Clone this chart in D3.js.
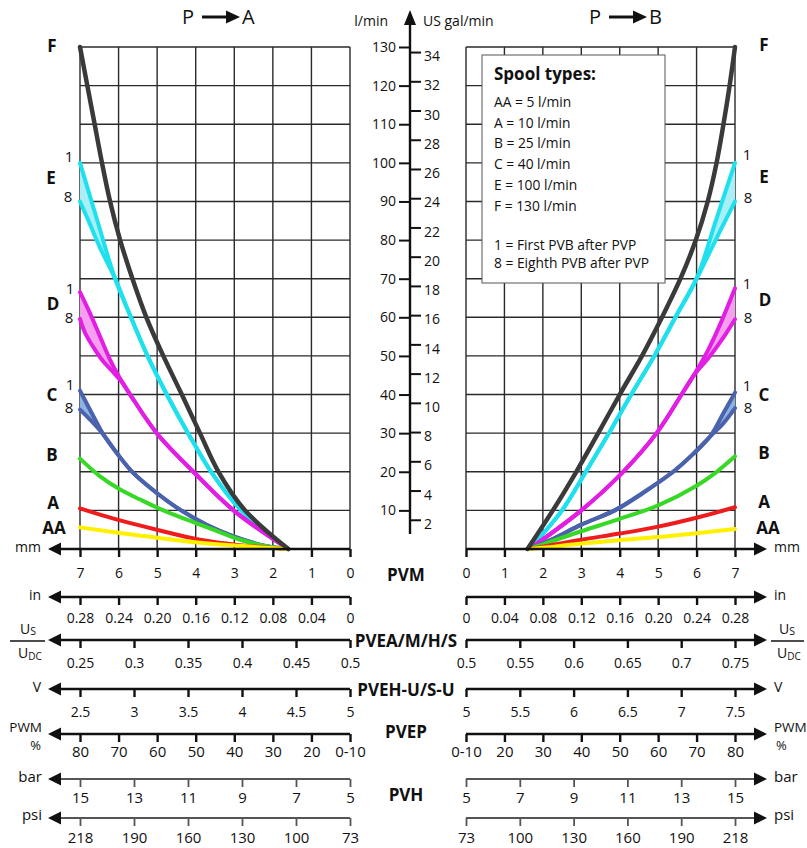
<!DOCTYPE html>
<html><head><meta charset="utf-8">
<script src="https://cdn.jsdelivr.net/npm/d3@7"></script>
<style>
body{margin:0;background:#fff}
svg{display:block}
text{font-family:"Open Sans",sans-serif;fill:#111}
</style>
</head><body>
<svg id="c" width="807" height="848"></svg>
<script>
// ---------------- DATA ----------------
// spool stroke (mm) vs flow (l/min); P -> A (left panel)
const leftF  = [[1.6,0],[2.72,10],[3.41,20],[3.89,30],[4.36,40],[4.84,50],[5.28,60],[5.64,70],[5.96,80],[6.22,90],[6.43,100],[6.62,110],[6.81,120],[7,130]];
const leftE_base = [[1.6,0],[2.82,10],[3.6,20],[4.2,30],[4.75,40],[5.25,50],[5.68,60],[6.09,70]];
const leftE_1 = [[6.09,70],[6.55,85],[7,100]];
const leftE_8 = [[6.09,70],[6.48,78],[6.78,85],[7,90]];
const leftD_base = [[1.6,0],[3.02,10],[4.06,20],[5.01,30],[5.7,40],[5.88,42.8]];
const leftD_1 = [[5.88,42.8],[6.22,49],[6.48,55],[6.74,61],[7,66.5]];
const leftD_8 = [[5.88,42.8],[6.14,45.8],[6.4,48.6],[6.65,52.2],[6.87,56],[7,59.6]];
const leftC_base = [[1.6,0],[2.16,0.7],[3.02,3.3],[3.72,6.3],[4.41,10.2],[5.01,14.5],[5.62,19.7],[6.05,24.9],[6.39,29.6]];
const leftC_1 = [[6.39,29.6],[6.7,35.3],[7,41]];
const leftC_8 = [[6.39,29.6],[6.74,33.5],[7,36.1]];
const leftB  = [[1.6,0],[2.16,0.7],[2.85,2.4],[3.54,5.0],[4.23,7.6],[4.93,10.4],[5.44,12.8],[5.96,15.4],[6.48,18.8],[7,23.4]];
const leftA  = [[1.6,0],[2.85,1.0],[3.89,2.4],[5.01,5.0],[5.96,7.4],[6.48,8.9],[7,10.5]];
const leftAA = [[1.6,0],[3.89,1.6],[5.62,3.7],[7,5.6]];

// P -> B (right panel)
const rightF  = [[1.6,0],[2.26,10],[2.87,20],[3.44,30],[4.0,40],[4.58,50],[5.1,60],[5.58,70],[5.98,80],[6.29,90],[6.52,100],[6.7,110],[6.86,120],[7,130]];
const rightE_base = [[1.65,0],[2.5,10],[3.12,20],[3.72,30],[4.3,40],[4.9,50],[5.45,60],[6.0,70]];
const rightE_1 = [[6.0,70],[6.5,85],[7,100]];
const rightE_8 = [[6.0,70],[6.3,76],[6.62,82.5],[7,90]];
const rightD_base = [[1.65,0],[3.0,10],[4.09,20],[4.96,30],[5.61,40],[5.91,44.7]];
const rightD_1 = [[5.91,44.7],[6.3,51.5],[6.65,59],[7,67.5]];
const rightD_8 = [[5.91,44.7],[6.35,50],[6.7,54.8],[7,59.5]];
const rightC_base = [[1.65,0],[2.3,2.8],[3.0,6.3],[3.87,10],[4.6,14.5],[5.39,20],[5.9,24.5],[6.35,29.1]];
const rightC_1 = [[6.35,29.1],[6.7,35.2],[7,40.5]];
const rightC_8 = [[6.35,29.1],[6.7,32.6],[7,36.5]];
const rightB  = [[1.65,0],[2.0,1.2],[3.0,4.6],[4.0,7.8],[5.0,11.3],[6.0,16.4],[6.5,19.8],[7,24]];
const rightA  = [[1.65,0],[2.0,0.6],[3.0,2.4],[4.0,4.0],[5.0,5.8],[6.0,8.1],[7,10.8]];
const rightAA = [[1.65,0],[2.0,0.3],[3.0,1.4],[4.0,2.3],[5.0,3.1],[6.0,4.1],[7,5.2]];

// axes tick labels
const mmTicks = [0,1,2,3,4,5,6,7];
const flowTicks = [10,20,30,40,50,60,70,80,90,100,110,120,130];
const galTicks = [2,4,6,8,10,12,14,16,18,20,22,24,26,28,30,32,34];
const inTicks = ["0","0.04","0.08","0.12","0.16","0.20","0.24","0.28"];
const usLeftTicks = [0.25,0.3,0.35,0.4,0.45,0.5];
const usRightTicks = [0.5,0.55,0.6,0.65,0.7,0.75];
const vLeftTicks = [2.5,3,3.5,4,4.5,5];
const vRightTicks = [5,5.5,6,6.5,7,7.5];
const pwmTicks = ["0-10","20","30","40","50","60","70","80"];
const barTicks = [5,7,9,11,13,15];
const psiTicks = ["73","100","130","160","190","218"];
const legendTitle = "Spool types:";
const legendItems = ["AA = 5 l/min","A = 10 l/min","B = 25 l/min","C = 40 l/min","E = 100 l/min","F = 130 l/min"];
const legendNotes = ["1 = First PVB after PVP","8 = Eighth PVB after PVP"];
const LPM_PER_GAL = 3.785;

// ---------------- DRAW ----------------
const svg = d3.select("#c");
const xL = d3.scaleLinear().domain([0,7]).range([350,80]);
const xR = d3.scaleLinear().domain([0,7]).range([466,735]);
const y = d3.scaleLinear().domain([0,130]).range([549,47]);
const yGal = d3.scaleLinear().domain([0,130/LPM_PER_GAL]).range([549,47]);

// grid
[xL, xR].forEach(xs => {
  const g = svg.append("g").attr("stroke","#2a2a2a").attr("stroke-width",1.4);
  g.selectAll("line.v").data(mmTicks).join("line")
    .attr("x1",d=>xs(d)).attr("x2",d=>xs(d)).attr("y1",y(130)).attr("y2",y(0));
  g.selectAll("line.h").data(flowTicks).join("line")
    .attr("x1",xs(0)).attr("x2",xs(7)).attr("y1",d=>y(d)).attr("y2",d=>y(d));
});

// legend box
const lg = svg.append("g");
lg.append("rect").attr("x",482).attr("y",55).attr("width",183).attr("height",228)
  .attr("fill","#fff").attr("stroke","#555").attr("stroke-width",1);
lg.append("text").attr("x",494).attr("y",80).attr("font-weight","bold").attr("font-size",17).text(legendTitle);
lg.selectAll("text.it").data(legendItems).join("text").attr("class","it")
  .attr("x",494).attr("y",(d,i)=>107+i*20.7).attr("font-size",13.8).text(d=>d);
lg.selectAll("text.nt").data(legendNotes).join("text").attr("class","nt")
  .attr("x",494).attr("y",(d,i)=>250+i*18).attr("font-size",13.8).text(d=>d);

// curves
const line = d3.line().curve(d3.curveCatmullRom.alpha(0.5));
function drawSet(xs, spec) {
  const P = arr => arr.map(d => [xs(d[0]), y(d[1])]);
  spec.forEach(s => {
    if (s.t1) {
      const full1 = s.base.concat(s.t1.slice(1));
      const full8 = s.base.concat(s.t8.slice(1));
      const band = line(P(s.t1)) + line(P(s.t8.slice().reverse())).replace(/^M/,"L") + "Z";
      svg.append("path").attr("d",band).attr("fill",s.band).attr("stroke","none");
      [full8, full1].forEach(f => svg.append("path").attr("d",line(P(f)))
        .attr("fill","none").attr("stroke",s.color).attr("stroke-width",s.w)
        .attr("stroke-linecap","round").attr("stroke-linejoin","round"));
    } else {
      svg.append("path").attr("d",line(P(s.base))).attr("fill","none")
        .attr("stroke",s.color).attr("stroke-width",s.w)
        .attr("stroke-linecap","round").attr("stroke-linejoin","round");
    }
  });
}
const cE="#1fe0ee", cD="#e21ee4", cC="#4b62ad", cB="#38d826", cA="#ee1c1c", cAA="#fff000", cF="#3a3a3a";
const W = 4;
drawSet(xL, [
  {base:leftE_base,t1:leftE_1,t8:leftE_8,color:cE,band:"#aaeff6",w:W},
  {base:leftD_base,t1:leftD_1,t8:leftD_8,color:cD,band:"#f4a0ef",w:W},
  {base:leftC_base,t1:leftC_1,t8:leftC_8,color:cC,band:"#8db3e2",w:W},
  {base:leftB,color:cB,w:W},
  {base:leftA,color:cA,w:W},
  {base:leftAA,color:cAA,w:W},
  {base:leftF,color:cF,w:4.5}
]);
drawSet(xR, [
  {base:rightE_base,t1:rightE_1,t8:rightE_8,color:cE,band:"#aaeff6",w:W},
  {base:rightD_base,t1:rightD_1,t8:rightD_8,color:cD,band:"#f4a0ef",w:W},
  {base:rightC_base,t1:rightC_1,t8:rightC_8,color:cC,band:"#8db3e2",w:W},
  {base:rightB,color:cB,w:W},
  {base:rightA,color:cA,w:W},
  {base:rightAA,color:cAA,w:W},
  {base:rightF,color:cF,w:4.5}
]);

// central flow axis
svg.append("line").attr("x1",410).attr("x2",410).attr("y1",534).attr("y2",22)
  .attr("stroke","#111").attr("stroke-width",2.4);
svg.append("path").attr("d","M410,10 L404,25 L416,25 Z").attr("fill","#111");
const aL = svg.append("g").attr("transform","translate(410,0)")
  .call(d3.axisLeft(y).tickValues(flowTicks).tickSize(11).tickPadding(3));
const aR = svg.append("g").attr("transform","translate(410,0)")
  .call(d3.axisRight(yGal).tickValues(galTicks).tickSize(11).tickPadding(3));
[aL,aR].forEach(a=>{
  a.select(".domain").remove();
  a.selectAll(".tick line").attr("stroke","#111").attr("stroke-width",2);
  a.selectAll(".tick text").attr("font-family","Open Sans").attr("font-size",14).attr("fill","#111");
});
aR.selectAll(".tick text").attr("dy","0.62em");
svg.append("text").attr("x",388).attr("y",26).attr("text-anchor","end").attr("font-size",14).text("l/min");
svg.append("text").attr("x",423).attr("y",26).attr("font-size",14).text("US gal/min");

// titles
function title(x0, a, b) {
  svg.append("text").attr("x",x0).attr("y",24).attr("font-size",20).text(a);
  svg.append("line").attr("x1",x0+20).attr("x2",x0+46).attr("y1",17).attr("y2",17).attr("stroke","#111").attr("stroke-width",3);
  svg.append("path").attr("d",`M${x0+58},17 L${x0+44},10.5 L${x0+44},23.5 Z`).attr("fill","#111");
  svg.append("text").attr("x",x0+60).attr("y",24).attr("font-size",20).text(b);
}
title(182,"P","A");
title(589,"P","B");

// series labels
const lblL = [["F",52,46,1],["1",69,157,0],["E",51,178,1],["8",68,197,0],["1",70,289,0],["D",53,304,1],["8",69,318,0],
  ["1",70,385,0],["C",52,395,1],["8",69,408,0],["B",52,455,1],["A",53,503,1],["AA",54,528,1]];
const lblR = [["F",764,45,1],["1",747,155,0],["E",764,177,1],["8",748,198,0],["1",747,284,0],["D",765,300,1],["8",748,318,0],
  ["1",747,386,0],["C",764,395,1],["8",748,408,0],["B",764,453,1],["A",764,502,1],["AA",768,528,1]];
lblL.concat(lblR).forEach(([t,x,yy,b])=>{
  svg.append("text").attr("x",x).attr("y",yy).attr("dy","0.35em").attr("text-anchor","middle")
    .attr("font-weight",b?"bold":"normal").attr("font-size",b?17:15).text(t);
});

// bottom axes
function row(scale, ticks, fmt, yy, side, o) {
  const ax = d3.axisBottom(scale).tickValues(ticks).tickFormat(fmt).tickSize(8).tickSizeOuter(0).tickPadding(o.pad);
  const g = svg.append("g").attr("transform",`translate(0,${yy})`).call(ax);
  g.select(".domain").remove();
  g.selectAll(".tick line").attr("stroke",o.col).attr("stroke-width",o.w);
  g.selectAll(".tick text").attr("font-family",o.font).attr("font-size",o.fs).attr("fill","#111");
  const r = scale.range();
  const dir = side === "right" ? 1 : -1;
  const start = dir > 0 ? Math.min(r[0], r[r.length-1]) : Math.max(r[0], r[r.length-1]);
  const tip = dir > 0 ? 767 : 48;
  svg.append("line").attr("x1",start).attr("x2",tip - dir*10).attr("y1",yy).attr("y2",yy)
    .attr("stroke",o.col).attr("stroke-width",o.w);
  svg.append("path").attr("d",`M${tip},${yy} L${tip-dir*13},${yy-6.5} L${tip-dir*13},${yy+6.5} Z`).attr("fill","#111");
}
const thick = {col:"#111", w:2.4, font:"Open Sans", fs:14};
const thin = {col:"#555", w:1.8, font:"Lato", fs:15};
// left
row(xL, mmTicks, d=>d, 549, "left", {...thick,pad:11});
row(d3.scalePoint().domain(inTicks).range([350,80]), inTicks, d=>d, 597, "left", {...thick,pad:8});
row(d3.scaleLinear().domain([0.25,0.5]).range([80,350]), usLeftTicks, d=>String(d), 640, "left", {...thick,pad:10});
row(d3.scaleLinear().domain([2.5,5]).range([80,350]), vLeftTicks, d=>String(d), 689, "left", {...thick,pad:10});
row(d3.scalePoint().domain(pwmTicks).range([350,80]), pwmTicks, d=>d, 734, "left", {...thick,font:"Lato",fs:15,pad:4});
row(d3.scaleLinear().domain([5,15]).range([350,80]), barTicks, d=>String(d), 779, "left", {...thin,pad:5});
row(d3.scalePoint().domain(psiTicks).range([350,80]), psiTicks, d=>d, 818, "left", {...thin,pad:6});
// right
row(xR, mmTicks, d=>d, 549, "right", {...thick,pad:11});
row(d3.scalePoint().domain(inTicks).range([466,735]), inTicks, d=>d, 597, "right", {...thick,pad:8});
row(d3.scaleLinear().domain([0.5,0.75]).range([466,735]), usRightTicks, d=>String(d), 640, "right", {...thick,pad:10});
row(d3.scaleLinear().domain([5,7.5]).range([466,735]), vRightTicks, d=>String(d), 689, "right", {...thick,pad:10});
row(d3.scalePoint().domain(pwmTicks).range([466,735]), pwmTicks, d=>d, 734, "right", {...thick,font:"Lato",fs:15,pad:4});
row(d3.scaleLinear().domain([5,15]).range([466,735]), barTicks, d=>String(d), 779, "right", {...thin,pad:5});
row(d3.scalePoint().domain(psiTicks).range([466,735]), psiTicks, d=>d, 818, "right", {...thin,pad:6});

// row side labels
function sideLabel(t, x, yy, anchor, font, fs) {
  svg.append("text").attr("x",x).attr("y",yy).attr("dy","0.35em").attr("text-anchor",anchor)
    .attr("font-family",font||"Open Sans").attr("font-size",fs||14).text(t);
}
sideLabel("mm",41,547,"end"); sideLabel("mm",774,547,"start");
sideLabel("in",41,595,"end"); sideLabel("in",774,595,"start");
sideLabel("V",41,687,"end"); sideLabel("V",774,687,"start");
sideLabel("PWM",42,727,"end","Lato",13.5); sideLabel("PWM",774,727,"start","Lato",13.5);
sideLabel("%",41,745,"end","Lato",13); sideLabel("%",776,745,"start","Lato",13);
sideLabel("bar",42,777,"end","Lato",15); sideLabel("bar",774,777,"start","Lato",15);
sideLabel("psi",42,815,"end","Lato",15); sideLabel("psi",774,815,"start","Lato",15);
function frac(cx, x1, x2) {
  svg.append("line").attr("x1",x1).attr("x2",x2).attr("y1",641).attr("y2",641).attr("stroke","#111").attr("stroke-width",1.6);
  const t1 = svg.append("text").attr("x",cx).attr("y",634).attr("text-anchor","middle").attr("font-size",14);
  t1.append("tspan").text("U"); t1.append("tspan").attr("font-size",10.5).attr("dy",1).text("S");
  const t2 = svg.append("text").attr("x",cx+2).attr("y",658).attr("text-anchor","middle").attr("font-size",14);
  t2.append("tspan").text("U"); t2.append("tspan").attr("font-size",10).attr("dy",2).text("DC");
}
frac(28,10,45); frac(787,771,804);

// center labels
[["PVM",575],["PVEA/M/H/S",641],["PVEH-U/S-U",690],["PVEP",732],["PVH",795]].forEach(([t,yy])=>{
  svg.append("text").attr("x",406).attr("y",yy).attr("dy","0.35em").attr("text-anchor","middle")
    .attr("font-weight","bold").attr("font-size",17).text(t);
});
</script>
</body></html>
